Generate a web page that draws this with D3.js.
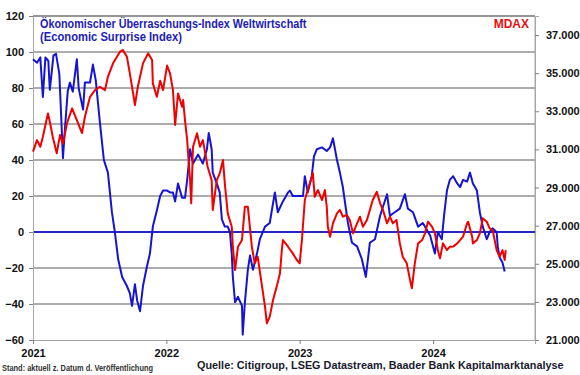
<!DOCTYPE html>
<html>
<head>
<meta charset="utf-8">
<script src="https://cdn.jsdelivr.net/npm/d3@7"></script>
<style>
  body { margin: 0; background: #fff; }
  svg text { font-family: Arial, "Liberation Sans", sans-serif; font-weight: bold; }
</style>
</head>
<body>
<svg id="chart" width="580" height="375"></svg>
<script>
// surprise index (left axis)
const esiDates = ["2021-01-01","2021-01-12","2021-01-21","2021-01-28","2021-02-04","2021-02-12","2021-02-16","2021-02-26","2021-03-05","2021-03-14","2021-03-19","2021-03-24","2021-03-30","2021-04-06","2021-04-12","2021-04-20","2021-05-01","2021-05-06","2021-05-18","2021-05-23","2021-06-06","2021-06-14","2021-06-22","2021-07-03","2021-07-14","2021-07-25","2021-08-05","2021-08-13","2021-08-22","2021-09-02","2021-09-15","2021-09-23","2021-09-29","2021-10-07","2021-10-13","2021-10-21","2021-10-29","2021-11-09","2021-11-17","2021-11-25","2021-12-06","2021-12-15","2021-12-23","2022-01-03","2022-01-11","2022-01-19","2022-01-25","2022-02-02","2022-02-13","2022-02-21","2022-02-27","2022-03-07","2022-03-15","2022-03-29","2022-04-11","2022-04-22","2022-04-27","2022-05-05","2022-05-08","2022-05-19","2022-05-27","2022-06-02","2022-06-10","2022-06-18","2022-06-24","2022-06-29","2022-07-02","2022-07-08","2022-07-16","2022-07-27","2022-07-29","2022-08-04","2022-08-12","2022-08-18","2022-08-26","2022-09-06","2022-09-14","2022-09-28","2022-10-11","2022-10-25","2022-11-02","2022-11-16","2022-11-30","2022-12-05","2022-12-13","2022-12-27","2023-01-10","2023-01-15","2023-01-23","2023-02-03","2023-02-09","2023-02-17","2023-03-03","2023-03-16","2023-03-25","2023-04-02","2023-04-13","2023-04-21","2023-04-29","2023-05-13","2023-05-24","2023-06-07","2023-06-20","2023-07-01","2023-07-12","2023-07-26","2023-08-09","2023-08-28","2023-09-05","2023-09-18","2023-10-02","2023-10-16","2023-10-24","2023-11-07","2023-11-21","2023-12-04","2023-12-24","2024-01-06","2024-01-14","2024-01-25","2024-01-31","2024-02-08","2024-02-16","2024-02-25","2024-03-07","2024-03-15","2024-03-23","2024-04-03","2024-04-11","2024-04-19","2024-04-30","2024-05-08","2024-05-16","2024-05-27","2024-06-04","2024-06-12","2024-06-23","2024-06-26","2024-07-01","2024-07-09","2024-07-15"]
const esiValues = [96,94,97,75,97,95,79,98,99,88,65,41,59,78,83,78,96,80,68,83,83,93,84,61,40,33,11,0,-15,-25,-30,-34,-41,-29,-38,-44,-30,-19,-12,3,12,20,23,23,22,22,17,27,19,19,29,46,38,43,38,46,55,46,33,27,22,7,3,3,0,-12,-25,-39,-36,-41,-57,-39,-21,-13,-21,-12,-4,3,5,22,11,17,22,23,20,20,20,31,22,31,42,46,47,45,47,52,40,33,25,5,-6,-8,-15,-25,-6,-4,9,21,9,11,13,21,13,11,3,5,-2,-12,0,-4,9,23,29,31,27,25,29,28,33,27,23,11,3,-4,0,2,0,-8,-14,-17,-22]

// MDAX (right axis)
const mdaxDates = ["2021-01-01","2021-01-12","2021-01-21","2021-01-28","2021-02-11","2021-02-16","2021-02-24","2021-03-07","2021-03-16","2021-03-24","2021-04-04","2021-04-18","2021-05-01","2021-05-15","2021-05-23","2021-06-06","2021-06-20","2021-07-03","2021-07-17","2021-07-25","2021-08-08","2021-08-27","2021-09-04","2021-09-15","2021-09-23","2021-10-02","2021-10-07","2021-10-15","2021-10-29","2021-11-12","2021-11-23","2021-11-25","2021-12-06","2021-12-15","2021-12-23","2022-01-03","2022-01-11","2022-01-19","2022-01-25","2022-02-02","2022-02-13","2022-02-16","2022-02-21","2022-02-27","2022-03-02","2022-03-07","2022-03-10","2022-03-15","2022-03-26","2022-04-03","2022-04-11","2022-04-24","2022-05-05","2022-05-08","2022-05-19","2022-05-27","2022-06-05","2022-06-10","2022-06-18","2022-06-29","2022-07-02","2022-07-08","2022-07-16","2022-07-27","2022-08-04","2022-08-12","2022-08-23","2022-08-31","2022-09-08","2022-09-20","2022-09-28","2022-10-03","2022-10-11","2022-10-20","2022-10-30","2022-11-08","2022-11-13","2022-11-16","2022-11-30","2022-12-13","2022-12-24","2023-01-01","2023-01-07","2023-01-15","2023-01-23","2023-02-06","2023-02-11","2023-02-20","2023-03-03","2023-03-11","2023-03-16","2023-03-19","2023-03-25","2023-04-02","2023-04-13","2023-04-21","2023-04-29","2023-05-10","2023-05-18","2023-05-27","2023-06-07","2023-06-15","2023-06-23","2023-07-04","2023-07-12","2023-07-20","2023-07-31","2023-08-09","2023-08-17","2023-08-28","2023-09-05","2023-09-13","2023-09-23","2023-10-02","2023-10-10","2023-10-21","2023-10-30","2023-11-04","2023-11-12","2023-11-21","2023-12-02","2023-12-10","2023-12-18","2023-12-29","2024-01-06","2024-01-14","2024-01-20","2024-01-28","2024-02-08","2024-02-16","2024-02-25","2024-03-07","2024-03-15","2024-03-23","2024-04-03","2024-04-06","2024-04-17","2024-04-19","2024-04-30","2024-05-08","2024-05-16","2024-05-27","2024-06-04","2024-06-12","2024-06-23","2024-07-01","2024-07-09","2024-07-15","2024-07-18"]
const mdaxValues = [30880,31490,31140,31665,32890,32455,31665,30795,31755,31300,32370,33155,32540,31860,32700,33760,34110,34290,34110,34810,35515,36125,36210,35865,34990,33940,33330,34290,35515,36040,35690,34465,33765,34600,34112,35400,34990,34115,32280,33940,33240,33590,32540,31490,30615,29390,28170,31140,31845,31140,31490,30090,29390,27820,29390,29740,30440,29215,27645,26945,25895,24670,25895,26245,27995,27995,25895,25020,25370,23800,22750,21875,22225,23100,23800,24500,25720,26245,25895,25545,25197,25022,26245,28344,28869,29745,28519,28869,28344,28869,27993,26944,26420,27120,27645,27820,27470,27560,27295,26595,27120,27470,26944,27295,27820,28344,28780,28170,27820,27120,27470,27120,27295,26070,25370,25022,24147,23712,25022,26070,26245,26595,27205,26944,26595,25720,25285,26070,25720,25895,25900,26070,26245,26420,27120,27205,26420,26070,26245,26595,27383,27205,26860,26770,25720,25370,25720,25197,25720]

const leftTicks = [-60,-40,-20,0,20,40,60,80,100,120]
const rightTicks = [21000,23000,25000,27000,29000,31000,33000,35000,37000]
const yearTicks = ["2021-01-01","2022-01-01","2023-01-01","2024-01-01"]

const parse = d3.timeParse("%Y-%m-%d")
const esi = esiDates.map((d, i) => ({ date: parse(d), v: esiValues[i] }))
const mdax = mdaxDates.map((d, i) => ({ date: parse(d), v: mdaxValues[i] }))

const svg = d3.select("#chart")
const L = 33, R = 535, T = 16, B = 340

const x = d3.scaleTime()
  .domain([parse("2021-01-01"), parse("2024-10-06")])
  .range([L, R])
const yL = d3.scaleLinear().domain([-60, 120]).range([B, T])
const yR = d3.scaleLinear().domain([21000, 38000]).range([B, T])

// gridlines
svg.append("g")
  .selectAll("line")
  .data(leftTicks.filter(d => d !== 0 && d !== -60))
  .enter()
  .append("line")
  .attr("x1", L).attr("x2", R)
  .attr("y1", d => yL(d)).attr("y2", d => yL(d))
  .attr("stroke", "#5a5a5a")
  .attr("stroke-width", 1)

// frame
svg.append("line").attr("x1", R).attr("x2", R).attr("y1", T).attr("y2", B)
  .attr("stroke", "#a6a6a6")

// zero line
svg.append("line")
  .attr("x1", L).attr("x2", R)
  .attr("y1", yL(0)).attr("y2", yL(0))
  .attr("stroke", "#2525c8")
  .attr("stroke-width", 2)

function styleAxis(g) {
  g.select(".domain").attr("stroke", "#a6a6a6")
  g.selectAll(".tick line").attr("stroke", "#7f7f7f")
  g.selectAll("text").attr("font-size", 11).attr("fill", "#111")
    .style("font-family", "Arial, 'Liberation Sans', sans-serif").style("font-weight", "bold")
}

// left axis
svg.append("g")
  .attr("transform", `translate(${L},0)`)
  .call(d3.axisLeft(yL).tickValues(leftTicks).tickSize(4).tickPadding(5))
  .call(styleAxis)

// right axis
const fmt = d => d3.format(",")(d).replace(",", ".")
svg.append("g")
  .attr("transform", `translate(${R},0)`)
  .call(d3.axisRight(yR).tickValues(rightTicks).tickSize(4).tickPadding(7).tickFormat(fmt))
  .call(styleAxis)

// bottom axis
svg.append("g")
  .attr("transform", `translate(0,${B})`)
  .call(d3.axisBottom(x).tickValues(yearTicks.map(parse)).tickSize(4).tickPadding(5)
    .tickFormat(d3.timeFormat("%Y")))
  .call(styleAxis)

// top border
svg.append("line").attr("x1", L).attr("x2", R).attr("y1", T).attr("y2", T)
  .attr("stroke", "#7f7f7f")

// lines
svg.append("path")
  .datum(esi)
  .attr("fill", "none")
  .attr("stroke", "#1414d2")
  .attr("stroke-width", 2)
  .attr("stroke-linejoin", "round")
  .attr("d", d3.line().x(d => x(d.date)).y(d => yL(d.v)))

svg.append("path")
  .datum(mdax)
  .attr("fill", "none")
  .attr("stroke", "#f00000")
  .attr("stroke-width", 2)
  .attr("stroke-linejoin", "round")
  .attr("d", d3.line().x(d => x(d.date)).y(d => yR(d.v)))

// condensed text: measure, then squeeze horizontally to the wanted width
function squeezed(str, px, py, size, color, width) {
  const t = svg.append("text")
    .attr("font-size", size).attr("fill", color)
    .text(str)
  const w = t.node().getComputedTextLength()
  const k = Math.min(1, width / w)
  t.attr("transform", `translate(${px},${py}) scale(${k},1)`)
  return t
}

squeezed("Ökonomischer Überraschungs-Index Weltwirtschaft", 40, 28, 12, "#1c1cb4", 267)
squeezed("(Economic Surprise Index)", 40, 41, 12, "#1c1cb4", 142)
svg.append("text").attr("x", 529).attr("y", 28).attr("font-size", 12).attr("fill", "#e01010")
  .attr("text-anchor", "end")
  .text("MDAX")

squeezed("Stand: aktuell z. Datum d. Veröffentlichung", 2, 371, 9, "#333", 151)
squeezed("Quelle: Citigroup, LSEG Datastream, Baader Bank Kapitalmarktanalyse", 197, 369, 11.5, "#1a1a2e", 367)
</script>
</body>
</html>
